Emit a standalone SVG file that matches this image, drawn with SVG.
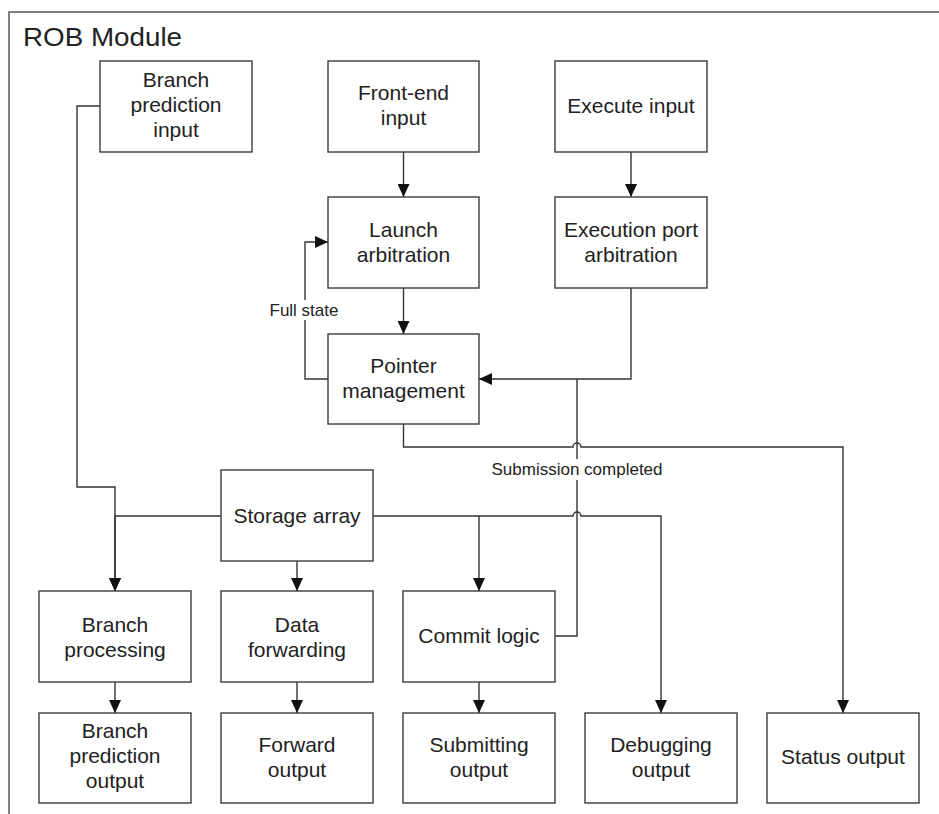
<svg xmlns="http://www.w3.org/2000/svg" width="939" height="814" viewBox="0 0 939 814">
<style>
.box{fill:#fff;stroke:#3c3c3c;stroke-width:1.4}
.t{font-family:"Liberation Sans",Arial,sans-serif;font-size:21px;fill:#222;text-anchor:middle}
.lbl{font-family:"Liberation Sans",Arial,sans-serif;font-size:17px;fill:#222;text-anchor:middle}
.ln{fill:none;stroke:#333;stroke-width:1.4}
</style>
<defs>
<marker id="arr" markerUnits="userSpaceOnUse" markerWidth="13" markerHeight="12" viewBox="0 0 13 12" refX="13" refY="6" orient="auto">
<path d="M0,0 L13,6 L0,12 z" fill="#111"/>
</marker>
</defs>
<rect width="939" height="814" fill="#fff"/>
<g id="frame">
<path d="M9,830 V12 H945" fill="none" stroke="#555" stroke-width="1.5"/>
<text x="23" y="46" font-family="Liberation Sans,Arial,sans-serif" font-size="26" fill="#222" textLength="159" lengthAdjust="spacingAndGlyphs">ROB Module</text>
</g>
<g id="connectors">
<path class="ln" d="M403.5,152 V197" marker-end="url(#arr)"/>
<path class="ln" d="M631,152 V197" marker-end="url(#arr)"/>
<path class="ln" d="M403.5,288 V334" marker-end="url(#arr)"/>
<path class="ln" d="M328,379 H305 V242 H328" marker-end="url(#arr)"/>
<path class="ln" d="M631,288 V379 H479" marker-end="url(#arr)"/>
<path class="ln" d="M555,636 H577 V379"/>
<path class="ln" d="M403.5,424 V447 H573 A4,4 0 0 1 581,447 H843 V713" marker-end="url(#arr)"/>
<path class="ln" d="M100,106 H77 V487 H115 V591" marker-end="url(#arr)"/>
<path class="ln" d="M221,516 H115 V591" marker-end="url(#arr)"/>
<path class="ln" d="M297,561 V591" marker-end="url(#arr)"/>
<path class="ln" d="M373,516 H479 V591" marker-end="url(#arr)"/>
<path class="ln" d="M479,516 H573 A4,4 0 0 1 581,516 H661 V713" marker-end="url(#arr)"/>
<path class="ln" d="M115,682 V713" marker-end="url(#arr)"/>
<path class="ln" d="M297,682 V713" marker-end="url(#arr)"/>
<path class="ln" d="M479,682 V713" marker-end="url(#arr)"/>
<rect x="269" y="300" width="70" height="20" fill="#fff"/>
<text class="lbl" x="304" y="316">Full state</text>
<rect x="491" y="459" width="172" height="21" fill="#fff"/>
<text class="lbl" x="577" y="475">Submission completed</text>
</g>
<g id="bp_input"><rect class="box" x="100" y="61" width="152" height="91"/><text class="t" x="176" y="87">Branch</text><text class="t" x="176" y="112">prediction</text><text class="t" x="176" y="137">input</text></g>
<g id="fe_input"><rect class="box" x="328" y="61" width="151" height="91"/><text class="t" x="403.5" y="100">Front-end</text><text class="t" x="403.5" y="125">input</text></g>
<g id="exec_input"><rect class="box" x="555" y="61" width="152" height="91"/><text class="t" x="631" y="113">Execute input</text></g>
<g id="launch_arb"><rect class="box" x="328" y="197" width="151" height="91"/><text class="t" x="403.5" y="237">Launch</text><text class="t" x="403.5" y="262">arbitration</text></g>
<g id="exec_port_arb"><rect class="box" x="555" y="197" width="152" height="91"/><text class="t" x="631" y="237">Execution port</text><text class="t" x="631" y="262">arbitration</text></g>
<g id="pointer_mgmt"><rect class="box" x="328" y="334" width="151" height="90"/><text class="t" x="403.5" y="373">Pointer</text><text class="t" x="403.5" y="398">management</text></g>
<g id="storage_array"><rect class="box" x="221" y="470" width="152" height="91"/><text class="t" x="297" y="523">Storage array</text></g>
<g id="branch_proc"><rect class="box" x="39" y="591" width="152" height="91"/><text class="t" x="115" y="632">Branch</text><text class="t" x="115" y="657">processing</text></g>
<g id="data_fwd"><rect class="box" x="221" y="591" width="152" height="91"/><text class="t" x="297" y="632">Data</text><text class="t" x="297" y="657">forwarding</text></g>
<g id="commit_logic"><rect class="box" x="403" y="591" width="152" height="91"/><text class="t" x="479" y="643">Commit logic</text></g>
<g id="bp_output"><rect class="box" x="39" y="713" width="152" height="90"/><text class="t" x="115" y="738">Branch</text><text class="t" x="115" y="763">prediction</text><text class="t" x="115" y="788">output</text></g>
<g id="fwd_output"><rect class="box" x="221" y="713" width="152" height="90"/><text class="t" x="297" y="752">Forward</text><text class="t" x="297" y="777">output</text></g>
<g id="sub_output"><rect class="box" x="403" y="713" width="152" height="90"/><text class="t" x="479" y="752">Submitting</text><text class="t" x="479" y="777">output</text></g>
<g id="dbg_output"><rect class="box" x="585" y="713" width="152" height="90"/><text class="t" x="661" y="752">Debugging</text><text class="t" x="661" y="777">output</text></g>
<g id="status_output"><rect class="box" x="767" y="713" width="152" height="90"/><text class="t" x="843" y="764">Status output</text></g>
</svg>
